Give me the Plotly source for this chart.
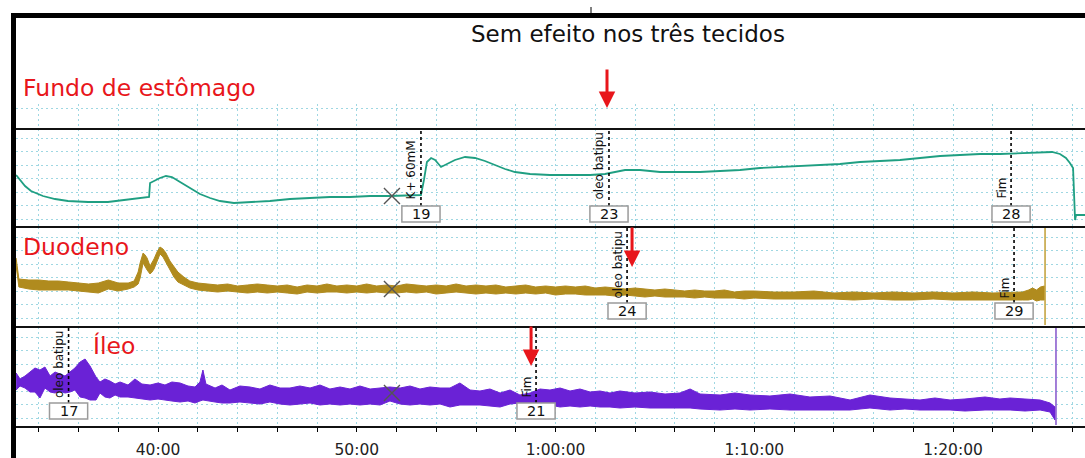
import plotly.graph_objects as go

W, H = 1085, 458

# ---------------- data ----------------
# time axis in minutes of recording
tick_minutes = [40, 50, 60, 70, 80]
tick_labels = ["40:00", "50:00", "1:00:00", "1:10:00", "1:20:00"]

# Fundo de estômago (single smooth trace)
fundo_t = [32.86, 33.31, 33.61, 34.21, 34.82, 35.47, 36.48, 37.48, 38.29, 38.99,
           39.55, 39.60, 39.80, 40.10, 40.40, 40.70, 41.11, 41.61, 42.11, 42.62,
           43.12, 43.82, 44.63, 45.63, 46.64, 47.65, 48.65, 49.66, 50.67, 51.67,
           52.68, 53.23, 53.38, 53.53, 53.74, 53.94, 54.24, 54.54, 54.94, 55.45,
           55.95, 56.45, 56.96, 57.46, 57.96, 58.72, 59.72, 60.73, 61.74, 62.49,
           62.99, 63.50, 64.25, 65.26, 66.26, 67.27, 68.28, 69.28, 70.29, 71.30,
           72.30, 73.31, 74.31, 75.32, 76.33, 77.33, 78.34, 79.35, 80.35, 81.36,
           82.36, 83.37, 84.38, 84.98, 85.38, 85.68, 85.88, 86.04, 86.14, 86.19, 86.64]
fundo_v = [5.2, 4.1, 3.6, 3.1, 2.8, 2.6, 2.5, 2.5, 2.7, 2.9,
           3.0, 4.4, 4.6, 4.9, 5.1, 5.0, 4.5, 3.9, 3.3, 2.9,
           2.6, 2.4, 2.5, 2.6, 2.8, 2.9, 3.0, 3.0, 3.1, 3.1,
           3.2, 3.2, 4.7, 6.5, 6.9, 6.7, 6.0, 6.3, 6.7, 7.0,
           6.9, 6.6, 6.2, 5.8, 5.5, 5.3, 5.2, 5.2, 5.2, 5.3,
           5.5, 5.7, 5.7, 5.5, 5.5, 5.5, 5.6, 5.7, 5.9, 6.0,
           6.1, 6.2, 6.3, 6.5, 6.6, 6.7, 6.9, 7.1, 7.2, 7.3,
           7.3, 7.4, 7.5, 7.5, 7.3, 6.9, 6.4, 5.9, 0.7, 1.2, 1.2]

# Duodeno (noisy trace: upper / lower envelope)
duo_t = [32.86, 33.0, 33.5, 34.0, 34.5, 35.0, 35.5, 36.0, 36.5, 37.0,
         37.5, 38.0, 38.5, 38.8, 39.0, 39.1, 39.25, 39.35, 39.45, 39.6,
         39.7, 39.8, 39.95, 40.1, 40.25, 40.4, 40.6, 40.8, 41.0, 41.3,
         41.6, 42.0, 42.5, 43.0, 43.5, 44.0, 44.5, 45.0, 45.5, 46.0,
         46.5, 47.0, 47.5, 48.0, 48.5, 49.0, 49.5, 50.0, 50.5, 51.0,
         51.5, 52.0, 52.5, 53.0, 53.5, 54.0, 54.5, 55.0, 55.5, 56.0,
         56.5, 57.0, 57.5, 58.0, 58.5, 59.0, 59.5, 60.0, 60.5, 61.0,
         61.5, 62.0, 62.5, 63.0, 63.5, 64.0, 64.5, 65.0, 65.5, 66.0,
         66.5, 67.0, 67.5, 68.0, 68.5, 69.0, 69.5, 70.0, 71.0, 72.0,
         73.0, 74.0, 75.0, 76.0, 77.0, 78.0, 79.0, 80.0, 81.0, 82.0,
         83.0, 83.5, 83.8, 84.0, 84.2, 84.4, 84.6]
duo_hi = [6.9, 4.8, 4.7, 4.7, 4.6, 4.6, 4.5, 4.4, 4.3, 4.4,
          4.7, 4.4, 4.4, 4.6, 5.5, 6.4, 7.4, 7.2, 6.9, 6.1,
          6.4, 6.8, 7.5, 8.0, 7.8, 7.4, 6.6, 6.0, 5.5, 5.0,
          4.6, 4.4, 4.3, 4.2, 4.3, 4.1, 4.2, 4.3, 4.2, 4.1,
          4.2, 4.0, 4.2, 4.1, 4.3, 4.1, 4.2, 4.1, 4.3, 4.1,
          4.2, 4.1, 4.3, 4.2, 4.1, 4.2, 4.1, 4.3, 4.1, 4.2,
          4.1, 4.2, 4.0, 4.1, 4.2, 4.0, 4.1, 4.0, 4.1, 4.0,
          4.1, 3.9, 4.0, 3.9, 3.8, 3.9, 3.8, 3.7, 3.8, 3.7,
          3.6, 3.7, 3.6, 3.6, 3.7, 3.5, 3.6, 3.6, 3.5, 3.5,
          3.6, 3.4, 3.5, 3.4, 3.5, 3.4, 3.5, 3.4, 3.5, 3.4,
          3.5, 3.5, 3.7, 3.9, 3.7, 4.0, 4.1]
duo_lo = [6.1, 4.0, 3.8, 3.7, 3.7, 3.7, 3.7, 3.6, 3.5, 3.4,
          3.8, 3.6, 3.8, 4.0, 4.3, 4.9, 6.4, 6.1, 5.7, 5.3,
          5.5, 5.8, 6.5, 7.3, 7.0, 6.5, 5.7, 5.0, 4.5, 4.2,
          3.9, 3.7, 3.6, 3.5, 3.6, 3.5, 3.4, 3.5, 3.4, 3.5,
          3.4, 3.3, 3.5, 3.4, 3.5, 3.5, 3.4, 3.5, 3.4, 3.5,
          3.4, 3.4, 3.5, 3.4, 3.5, 3.3, 3.4, 3.5, 3.4, 3.3,
          3.4, 3.3, 3.4, 3.3, 3.4, 3.3, 3.4, 3.2, 3.3, 3.3,
          3.2, 3.2, 3.2, 3.1, 3.2, 3.1, 3.0, 3.1, 3.0, 3.0,
          3.0, 2.9, 3.0, 2.9, 2.9, 2.9, 2.8, 2.9, 2.8, 2.8,
          2.8, 2.8, 2.7, 2.8, 2.7, 2.7, 2.8, 2.7, 2.7, 2.7,
          2.7, 2.7, 2.7, 2.8, 2.6, 2.7, 2.7]

# Íleo (noisy trace: upper / lower envelope)
ileo_t = [32.86, 33.06, 33.31, 33.56, 33.81, 34.06, 34.31, 34.57, 34.82, 35.07,
          35.32, 35.57, 35.82, 36.08, 36.33, 36.58, 36.88, 37.08, 37.33, 37.58,
          37.84, 38.09, 38.49, 38.84, 39.19, 39.60, 40.00, 40.35, 40.70, 41.11,
          41.51, 41.86, 42.11, 42.26, 42.41, 42.87, 43.22, 43.62, 44.12, 44.63,
          45.13, 45.63, 46.14, 46.64, 47.14, 47.65, 48.15, 48.65, 49.16, 49.66,
          50.16, 50.67, 51.17, 51.67, 52.18, 52.68, 53.18, 53.68, 54.19, 54.69,
          55.19, 55.70, 56.20, 56.70, 57.21, 57.71, 58.21, 58.72, 59.22, 59.72,
          60.23, 60.73, 61.23, 61.74, 62.24, 62.74, 63.24, 64.00, 64.75, 65.51,
          66.26, 66.77, 67.27, 68.28, 69.03, 69.79, 70.79, 71.80, 72.80, 73.81,
          74.82, 75.82, 76.83, 77.58, 78.34, 79.09, 79.85, 80.60, 81.61, 82.36,
          82.87, 83.62, 84.38, 84.88, 85.13]
ileo_hi = [5.4, 4.8, 5.1, 5.5, 5.9, 5.7, 6.0, 5.1, 5.5, 5.3,
           5.1, 5.5, 5.9, 6.5, 6.8, 6.1, 5.0, 4.5, 4.8, 4.6,
           4.3, 4.5, 4.2, 4.8, 4.3, 4.2, 4.4, 4.2, 4.5, 4.4,
           4.1, 4.0, 4.5, 5.7, 4.3, 3.9, 4.2, 3.7, 4.1, 4.0,
           3.8, 4.2, 3.9, 3.9, 4.1, 3.9, 4.2, 3.8, 4.0, 3.8,
           4.1, 3.8, 3.9, 4.0, 3.9, 4.1, 3.8, 4.0, 3.9, 3.9,
           4.4, 3.7, 3.6, 3.8, 3.4, 3.7, 3.2, 3.4, 3.8, 3.7,
           3.9, 3.6, 3.8, 3.5, 3.6, 3.4, 3.6, 3.4, 3.5, 3.3,
           3.4, 3.8, 3.3, 3.2, 3.4, 3.2, 3.1, 3.3, 3.0, 3.1,
           2.7, 3.2, 2.9, 2.8, 2.7, 2.9, 2.7, 2.8, 3.0, 2.8,
           2.9, 2.8, 2.7, 2.4, 2.0]
ileo_lo = [3.7, 4.1, 3.9, 3.5, 3.5, 2.9, 3.9, 3.5, 3.4, 3.6,
           3.4, 3.5, 3.7, 3.0, 2.9, 2.7, 2.7, 3.4, 3.0, 2.9,
           3.2, 3.0, 3.0, 2.9, 2.8, 2.7, 2.8, 2.7, 2.6, 2.5,
           2.6, 2.4, 2.6, 2.7, 2.6, 2.5, 2.4, 2.4, 2.5, 2.4,
           2.3, 2.5, 2.3, 2.2, 2.3, 2.4, 2.2, 2.3, 2.2, 2.3,
           2.2, 2.3, 2.2, 2.6, 2.3, 2.2, 2.3, 2.2, 2.3, 2.0,
           2.2, 2.2, 2.2, 2.1, 2.0, 2.3, 2.4, 2.3, 2.4, 2.2,
           2.0, 2.1, 2.0, 2.1, 2.0, 2.0, 1.9, 2.0, 1.9, 1.9,
           1.9, 1.9, 1.8, 1.7, 1.8, 1.7, 1.8, 1.7, 1.7, 1.7,
           1.7, 1.9, 1.7, 1.8, 1.7, 1.7, 1.7, 1.6, 1.7, 1.7,
           1.7, 1.6, 1.7, 1.5, 0.7]

# events (time, label, number) per tissue
fundo_ev_t = [53.23, 62.69, 82.92]
fundo_ev_lab = ["K+ 60mM", "oleo batipu", "Fim"]
fundo_ev_num = ["19", "23", "28"]
duo_ev_t = [63.60, 83.07]
duo_ev_lab = ["oleo batipu", "Fim"]
duo_ev_num = ["24", "29"]
ileo_ev_t = [35.50, 59.02]
ileo_ev_lab = ["oleo batipu", "Fim"]
ileo_ev_num = ["17", "21"]

# red arrows (time) per tissue
arrow_t = {"fundo": 62.59, "duo": 63.85, "ileo": 58.77}
# end of recording per tissue
duo_end_t = 84.63
ileo_end_t = 85.18
# cursor crosses
cursor_t = 51.77
cursor_v = {"fundo": 3.1, "duo": 3.8, "ileo": 3.4}

# ---------------- style ----------------
FONT = "DejaVu Sans"
GRID = "#9fd7e2"
RED = "#e8161b"
C_FUNDO = "#1f9f82"
C_DUO = "#b08b1e"
C_ILEO = "#6a22d6"


def X(px):
    return px / W


def Y(py):
    return 1 - py / H


fig = go.Figure()

fig.add_trace(go.Scatter(x=fundo_t, y=fundo_v, xaxis="x3", yaxis="y3", mode="lines",
                         line=dict(color=C_FUNDO, width=1.8), hoverinfo="skip"))
fig.add_trace(go.Scatter(x=duo_t + duo_t[::-1], y=duo_hi + duo_lo[::-1], xaxis="x2", yaxis="y2",
                         mode="lines", fill="toself", fillcolor=C_DUO,
                         line=dict(color=C_DUO, width=1), hoverinfo="skip"))
fig.add_trace(go.Scatter(x=ileo_t + ileo_t[::-1], y=ileo_hi + ileo_lo[::-1], xaxis="x", yaxis="y",
                         mode="lines", fill="toself", fillcolor=C_ILEO,
                         line=dict(color=C_ILEO, width=1), hoverinfo="skip"))
fig.add_trace(go.Scatter(x=[], y=[], xaxis="x4", yaxis="y4", mode="lines", hoverinfo="skip"))

for xa, ya, key in [("x3", "y3", "fundo"), ("x2", "y2", "duo"), ("x", "y", "ileo")]:
    fig.add_trace(go.Scatter(x=[cursor_t], y=[cursor_v[key]], xaxis=xa, yaxis=ya, mode="markers",
                             marker=dict(symbol="x-thin", size=16, line=dict(width=1.4, color="#555555")),
                             hoverinfo="skip"))

x_common = dict(range=[32.855, 86.64], domain=[16 / W, 1], showgrid=True, gridcolor=GRID,
                griddash="2px,3px", gridwidth=1, zeroline=False, showline=False,
                tickmode="array", tickvals=tick_minutes,
                minor=dict(dtick=2, tick0=0, showgrid=True, gridcolor=GRID, griddash="2px,3px",
                           gridwidth=1))

layout_axes = {}
layout_axes["xaxis"] = dict(x_common, anchor="y", ticktext=tick_labels, ticks="outside",
                            ticklen=4, tickcolor="#000", tickwidth=1,
                            tickfont=dict(family=FONT, size=15.5, color="#222"),
                            ticklabelstandoff=4)
layout_axes["xaxis"]["minor"] = dict(x_common["minor"], ticks="outside", ticklen=4,
                                     tickcolor="#000", tickwidth=1)
for i in (2, 3, 4):
    layout_axes[f"xaxis{i}"] = dict(x_common, anchor=f"y{i}", matches="x",
                                    showticklabels=False, ticks="")

panels = {
    "ileo": dict(ya="yaxis", top=327, bottom=427, rng=[0, 10.0], tick0=0.9),
    "duo": dict(ya="yaxis2", top=227, bottom=327, rng=[0, 10.0], tick0=0.9),
    "fundo": dict(ya="yaxis3", top=129, bottom=227, rng=[0, 9.8], tick0=0.8),
}
for key, p in panels.items():
    layout_axes[p["ya"]] = dict(domain=[Y(p["bottom"]), Y(p["top"])], range=p["rng"],
                                tick0=p["tick0"], dtick=1.35, showgrid=True, gridcolor=GRID,
                                griddash="2px,3px", gridwidth=1, showticklabels=False,
                                ticks="", zeroline=False, showline=False)
layout_axes["yaxis4"] = dict(domain=[Y(129), Y(104)], range=[0, 2.5], tickmode="array",
                             tickvals=[2.1], showgrid=True, gridcolor=GRID, griddash="2px,3px",
                             showticklabels=False, ticks="", zeroline=False, showline=False)

shapes = []
annotations = []

# frame borders
shapes.append(dict(type="rect", xref="paper", yref="paper", x0=X(11), x1=X(16), y0=Y(458), y1=Y(13),
                   fillcolor="#000", line=dict(width=0)))
shapes.append(dict(type="rect", xref="paper", yref="paper", x0=X(11), x1=1, y0=Y(18), y1=Y(13),
                   fillcolor="#000", line=dict(width=0)))
shapes.append(dict(type="line", xref="paper", yref="paper", x0=X(591), x1=X(591), y0=Y(13), y1=Y(7),
                   line=dict(color="#000", width=1)))
for py in (129, 227, 327, 427):
    shapes.append(dict(type="line", xref="paper", yref="paper", x0=X(16), x1=1, y0=Y(py), y1=Y(py),
                       line=dict(color="#111", width=2)))

# end-of-recording vertical lines
shapes.append(dict(type="line", xref="x2", yref="paper", x0=duo_end_t, x1=duo_end_t,
                   y0=Y(325), y1=Y(228), line=dict(color="#c4a542", width=1.6)))
shapes.append(dict(type="line", xref="x", yref="paper", x0=ileo_end_t, x1=ileo_end_t,
                   y0=Y(425), y1=Y(328), line=dict(color="#8c5fcf", width=1.6)))

# events
ev_sets = [
    ("x3", panels["fundo"], 206, 201, fundo_ev_t, fundo_ev_lab, fundo_ev_num),
    ("x2", panels["duo"], 303, 301, duo_ev_t, duo_ev_lab, duo_ev_num),
    ("x", panels["ileo"], 403, 400, ileo_ev_t, ileo_ev_lab, ileo_ev_num),
]
for xa, p, box_top, lab_bottom, ts, labs, nums in ev_sets:
    for t, lab, num in zip(ts, labs, nums):
        shapes.append(dict(type="line", xref=xa, yref="paper", x0=t, x1=t, y0=Y(box_top), y1=Y(p["top"]),
                           line=dict(color="#000", width=1.6, dash="3px,3px")))
        shapes.append(dict(type="rect", xref=xa, yref="paper", x0=t - 0.96, x1=t + 0.96,
                           y0=Y(box_top + 16), y1=Y(box_top), fillcolor="#fff",
                           line=dict(color="#9b9b9b", width=1.5)))
        annotations.append(dict(x=t, xref=xa, y=Y(box_top + 8), yref="paper", text=num,
                                showarrow=False, xanchor="center", yanchor="middle",
                                font=dict(family=FONT, size=14.5, color="#111")))
        annotations.append(dict(x=t, xref=xa, xanchor="right", xshift=-1, y=Y(lab_bottom), yref="paper",
                                yanchor="bottom", text=lab, textangle=-90, showarrow=False,
                                font=dict(family=FONT, size=12, color="#111")))

# red arrows
for key, xa, tip, tail in [("fundo", "x3", 108, 68), ("duo", "x2", 267, 226), ("ileo", "x", 366, 325)]:
    annotations.append(dict(x=arrow_t[key], xref=xa, y=Y(tip), yref="paper", ax=0, ay=-(tip - tail),
                            text="", showarrow=True, arrowhead=2, arrowsize=1.1, arrowwidth=3,
                            arrowcolor=RED, standoff=0))

# texts
annotations.append(dict(x=X(628), y=Y(34), xref="paper", yref="paper", text="Sem efeito nos três tecidos",
                        showarrow=False, xanchor="center", yanchor="middle",
                        font=dict(family=FONT, size=23, color="#111")))
annotations.append(dict(x=X(21), y=Y(88), xref="paper", yref="paper", text="Fundo de estômago",
                        showarrow=False, xanchor="left", yanchor="middle",
                        font=dict(family=FONT, size=23.5, color=RED)))
annotations.append(dict(x=X(21), y=Y(247), xref="paper", yref="paper", text="Duodeno",
                        showarrow=False, xanchor="left", yanchor="middle",
                        font=dict(family=FONT, size=23.5, color=RED)))
annotations.append(dict(x=X(91), y=Y(346), xref="paper", yref="paper", text="Íleo",
                        showarrow=False, xanchor="left", yanchor="middle",
                        font=dict(family=FONT, size=23.5, color=RED)))

fig.update_layout(width=W, height=H, autosize=False, margin=dict(l=0, r=0, t=0, b=0),
                  paper_bgcolor="#fff", plot_bgcolor="#fff", showlegend=False,
                  shapes=shapes, annotations=annotations, **layout_axes)

fig.write_html("out.html")
